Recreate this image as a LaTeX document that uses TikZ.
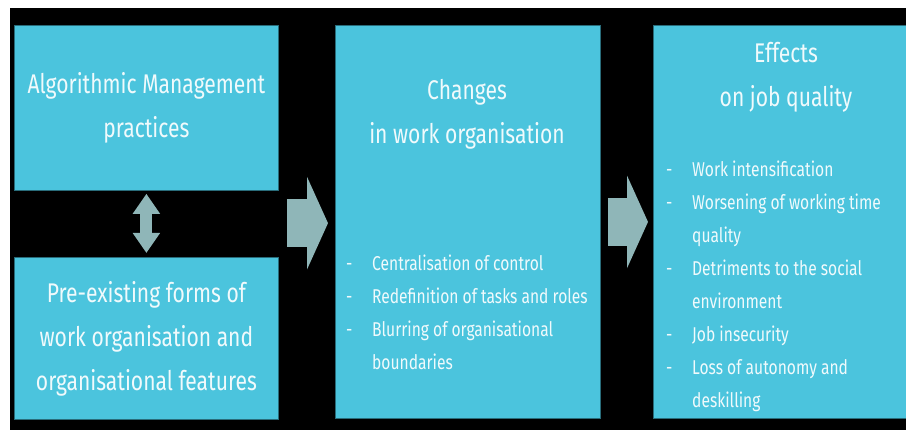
\documentclass[tikz,border=0pt]{standalone}
\usepackage{fontspec}
\setmainfont{Fira Sans}[FakeStretch=0.78]
\usetikzlibrary{arrows.meta,calc}

\definecolor{boxblue}{RGB}{75,196,221}
\definecolor{arrowgrey}{RGB}{143,182,184}
\definecolor{textwhite}{RGB}{240,250,252}

\newcommand{\dashitem}[1]{\makebox[26pt][l]{-}#1}
\newcommand{\contline}[1]{\hspace*{26pt}#1}

\tikzset{
	box/.style={fill=boxblue, draw=boxblue!55!black, line width=0.8pt, inner sep=0pt, anchor=north west},
	title/.style={text=textwhite, align=center, font=\fontsize{27}{44}\selectfont},
	itemlist/.style={text=textwhite, align=left, inner sep=0pt, anchor=north west, font=\fontsize{20}{33}\selectfont},
	flowarrow/.style={arrowgrey, line width=48pt, -{Triangle[length=21pt,width=92pt]}},
	linkarrow/.style={arrowgrey, line width=12pt, {Triangle[length=20pt,width=26pt]}-{Triangle[length=20pt,width=26pt]}}
}

\begin{document}
\begin{tikzpicture}[x=1pt, y=-1pt]
		
		\useasboundingbox (0,0) rectangle (906,430);
		\fill[white] (0,0) rectangle (906,430);
		\fill[black] (10,8) rectangle (906,430);
		
		% left column
		\node[box, title, minimum width=264pt, minimum height=165pt] (amp) at (14,25) {Algorithmic Management\\practices};
		\node[box, title, minimum width=264pt, minimum height=162pt] (pre) at (14,257) {Pre-existing forms of\\work organisation and\\organisational features};
		
		\draw[linkarrow, shorten <=3pt, shorten >=4pt] (amp) -- (pre);
		
		% middle column
		\node[box, minimum width=265pt, minimum height=393pt] (chg) at (335,25) {};
		\node[title] (chgtitle) at (467,114) {Changes\\in work organisation};
		\node[itemlist] (chglist) at (346,255) {\dashitem{Centralisation of control}\\
			\dashitem{Redefinition of tasks and roles}\\
			\dashitem{Blurring of organisational}\\
			\contline{boundaries}};
		
		% right column
		\node[box, minimum width=262pt, minimum height=393pt] (fx) at (653,25) {};
		\node[title] (fxtitle) at (786,77) {Effects\\on job quality};
		\node[itemlist] (fxlist) at (666,161) {\dashitem{Work intensification}\\
			\dashitem{Worsening of working time}\\
			\contline{quality}\\
			\dashitem{Detriments to the social}\\
			\contline{environment}\\
			\dashitem{Job insecurity}\\
			\dashitem{Loss of autonomy and}\\
			\contline{deskilling}};
		
		% flow arrows
		\coordinate (lc) at ($(amp.east)!0.5!(pre.east)$);
		\draw[flowarrow, shorten <=8pt, shorten >=7pt] (lc) -- (lc -| chg.west);
		\draw[flowarrow, shorten <=7pt, shorten >=5pt] (chg.east) -- (chg.east -| fx.west);
		
\end{tikzpicture}
\end{document}
